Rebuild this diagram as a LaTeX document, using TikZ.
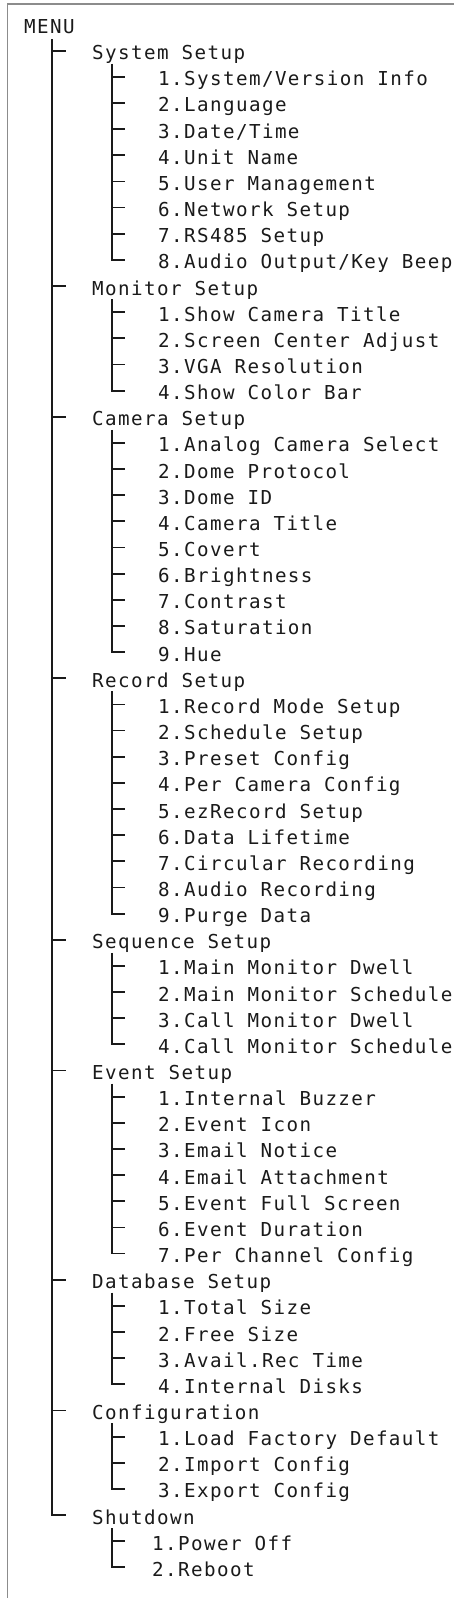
\documentclass[tikz,border=0pt]{standalone}
\usepackage{fontspec}
\newfontfamily\tfont[LetterSpace=7.4]{DejaVu Sans Mono}
\usetikzlibrary{calc}
\definecolor{framegray}{HTML}{8C8C8C}
\definecolor{ink}{HTML}{1A1A1A}
\tikzset{
  lbl/.style={anchor=base west, inner sep=0pt, text height=18pt, text depth=0pt,
    font=\tfont\fontsize{19.2}{19.2}\selectfont, text=ink},
  tree/.style={draw=ink, line width=1.8pt},
  frameline/.style={draw=framegray, line width=1.4pt}
}
\newcommand{\LY}[1]{{33.5+26.15*#1}}
\begin{document}
\begin{tikzpicture}[x=1pt,y=-1pt]
\useasboundingbox (0,0) rectangle (454,1598);
% frame
\coordinate (fa) at (7.5,1598);
\coordinate (fb) at (7.5,4);
\coordinate (fc) at (454,4);
\draw[frameline] (fa) -- (fb) -- (fc);
% column coordinates
\coordinate (x1) at (52,0);
\coordinate (x2) at (112,0);
% root
\node[lbl] (menu) at (24,\LY{0}) {MENU};
% System Setup
\node[lbl] (s1) at (92,\LY{1}) {System Setup};
\node[lbl] (s1a) at (158,\LY{2}) {1.System/Version Info};
\node[lbl] (s1b) at (158,\LY{3}) {2.Language};
\node[lbl] (s1c) at (158,\LY{4}) {3.Date/Time};
\node[lbl] (s1d) at (158,\LY{5}) {4.Unit Name};
\node[lbl] (s1e) at (158,\LY{6}) {5.User Management};
\node[lbl] (s1f) at (158,\LY{7}) {6.Network Setup};
\node[lbl] (s1g) at (158,\LY{8}) {7.RS485 Setup};
\node[lbl] (s1h) at (158,\LY{9}) {8.Audio Output/Key Beep};
% Monitor Setup
\node[lbl] (s2) at (92,\LY{10}) {Monitor Setup};
\node[lbl] (s2a) at (158,\LY{11}) {1.Show Camera Title};
\node[lbl] (s2b) at (158,\LY{12}) {2.Screen Center Adjust};
\node[lbl] (s2c) at (158,\LY{13}) {3.VGA Resolution};
\node[lbl] (s2d) at (158,\LY{14}) {4.Show Color Bar};
% Camera Setup
\node[lbl] (s3) at (92,\LY{15}) {Camera Setup};
\node[lbl] (s3a) at (158,\LY{16}) {1.Analog Camera Select};
\node[lbl] (s3b) at (158,\LY{17}) {2.Dome Protocol};
\node[lbl] (s3c) at (158,\LY{18}) {3.Dome ID};
\node[lbl] (s3d) at (158,\LY{19}) {4.Camera Title};
\node[lbl] (s3e) at (158,\LY{20}) {5.Covert};
\node[lbl] (s3f) at (158,\LY{21}) {6.Brightness};
\node[lbl] (s3g) at (158,\LY{22}) {7.Contrast};
\node[lbl] (s3h) at (158,\LY{23}) {8.Saturation};
\node[lbl] (s3i) at (158,\LY{24}) {9.Hue};
% Record Setup
\node[lbl] (s4) at (92,\LY{25}) {Record Setup};
\node[lbl] (s4a) at (158,\LY{26}) {1.Record Mode Setup};
\node[lbl] (s4b) at (158,\LY{27}) {2.Schedule Setup};
\node[lbl] (s4c) at (158,\LY{28}) {3.Preset Config};
\node[lbl] (s4d) at (158,\LY{29}) {4.Per Camera Config};
\node[lbl] (s4e) at (158,\LY{30}) {5.ezRecord Setup};
\node[lbl] (s4f) at (158,\LY{31}) {6.Data Lifetime};
\node[lbl] (s4g) at (158,\LY{32}) {7.Circular Recording};
\node[lbl] (s4h) at (158,\LY{33}) {8.Audio Recording};
\node[lbl] (s4i) at (158,\LY{34}) {9.Purge Data};
% Sequence Setup
\node[lbl] (s5) at (92,\LY{35}) {Sequence Setup};
\node[lbl] (s5a) at (158,\LY{36}) {1.Main Monitor Dwell};
\node[lbl] (s5b) at (158,\LY{37}) {2.Main Monitor Schedule};
\node[lbl] (s5c) at (158,\LY{38}) {3.Call Monitor Dwell};
\node[lbl] (s5d) at (158,\LY{39}) {4.Call Monitor Schedule};
% Event Setup
\node[lbl] (s6) at (92,\LY{40}) {Event Setup};
\node[lbl] (s6a) at (158,\LY{41}) {1.Internal Buzzer};
\node[lbl] (s6b) at (158,\LY{42}) {2.Event Icon};
\node[lbl] (s6c) at (158,\LY{43}) {3.Email Notice};
\node[lbl] (s6d) at (158,\LY{44}) {4.Email Attachment};
\node[lbl] (s6e) at (158,\LY{45}) {5.Event Full Screen};
\node[lbl] (s6f) at (158,\LY{46}) {6.Event Duration};
\node[lbl] (s6g) at (158,\LY{47}) {7.Per Channel Config};
% Database Setup
\node[lbl] (s7) at (92,\LY{48}) {Database Setup};
\node[lbl] (s7a) at (158,\LY{49}) {1.Total Size};
\node[lbl] (s7b) at (158,\LY{50}) {2.Free Size};
\node[lbl] (s7c) at (158,\LY{51}) {3.Avail.Rec Time};
\node[lbl] (s7d) at (158,\LY{52}) {4.Internal Disks};
% Configuration
\node[lbl] (s8) at (92,\LY{53}) {Configuration};
\node[lbl] (s8a) at (158,\LY{54}) {1.Load Factory Default};
\node[lbl] (s8b) at (158,\LY{55}) {2.Import Config};
\node[lbl] (s8c) at (158,\LY{56}) {3.Export Config};
% Shutdown
\node[lbl] (s9) at (92,\LY{57}) {Shutdown};
\node[lbl] (s9a) at (152,\LY{58}) {1.Power Off};
\node[lbl] (s9b) at (152,\LY{59}) {2.Reboot};
% level-1 trunk
\draw[tree] ($(x1 |- menu.base)+(0,5.5)$) -- (x1 |- s9.west) -- ++(14,0);
\foreach \n in {s1,s2,s3,s4,s5,s6,s7,s8}
  \draw[tree] (x1 |- \n.west) -- ++(14,0);
% level-2 branches: parent / last child / other children
\foreach \p/\last/\others in {
  s1/s1h/{s1a,s1b,s1c,s1d,s1e,s1f,s1g},
  s2/s2d/{s2a,s2b,s2c},
  s3/s3i/{s3a,s3b,s3c,s3d,s3e,s3f,s3g,s3h},
  s4/s4i/{s4a,s4b,s4c,s4d,s4e,s4f,s4g,s4h},
  s5/s5d/{s5a,s5b,s5c},
  s6/s6g/{s6a,s6b,s6c,s6d,s6e,s6f},
  s7/s7d/{s7a,s7b,s7c},
  s8/s8c/{s8a,s8b},
  s9/s9b/{s9a}}{
  \draw[tree] ($(x2 |- \p.base)+(0,4)$) -- (x2 |- \last.west) -- ++(13,0);
  \foreach \c in \others
    \draw[tree] (x2 |- \c.west) -- ++(13,0);
}
\end{tikzpicture}
\end{document}
